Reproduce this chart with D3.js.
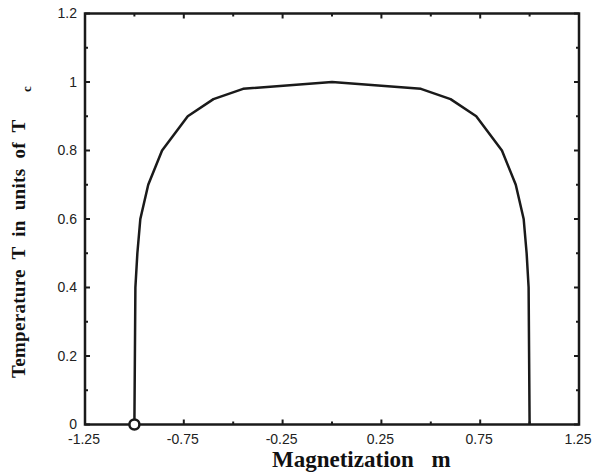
<!DOCTYPE html>
<html lang="en">
<head>
  <meta charset="UTF-8">
  <title>Magnetization vs Temperature</title>
  <script src="https://d3js.org/d3.v7.min.js"></script>
  <style>
    body { margin: 0; background: #fff; }
    .tick-label { font: 14px "Liberation Sans", Arial, sans-serif; fill: #222; }
    .axis-title { font-family: "Liberation Serif", "Times New Roman", serif; font-weight: bold; fill: #111; }
  </style>
</head>
<body>
  <svg></svg>
  <script>
    // curve
    const magnetization = [-1, -0.995, -0.985, -0.97, -0.93, -0.86, -0.73, -0.6, -0.45, 0, 0.45, 0.6, 0.73, 0.86, 0.93, 0.97, 0.985, 0.995, 1];
    const temperature   = [0, 0.4, 0.5, 0.6, 0.7, 0.8, 0.9, 0.95, 0.98, 1, 0.98, 0.95, 0.9, 0.8, 0.7, 0.6, 0.5, 0.4, 0];
    const marker = [{ m: -1, t: 0 }];

    const xMajor = [-1.25, -0.75, -0.25, 0.25, 0.75, 1.25];
    const xMinor = [-1, -0.5, 0, 0.5, 1];
    const yMajor = [0, 0.2, 0.4, 0.6, 0.8, 1, 1.2];
    const yMinor = [0.1, 0.3, 0.5, 0.7, 0.9, 1.1];

    const width = 596, height = 475;
    const plotLeft = 85, plotRight = 579, plotTop = 13.5, plotBottom = 424.5;

    const svg = d3.select("svg").attr("width", width).attr("height", height);

    const x = d3.scaleLinear().domain([-1.25, 1.25]).range([plotLeft, plotRight]);
    const y = d3.scaleLinear().domain([0, 1.2]).range([plotBottom, plotTop]);

    // plain hyphen minus like the original, no unicode minus
    const fmt = d => String(d);

    // ticks, pointing inward on all four sides
    const ticks = svg.append("g").attr("stroke", "#1a1a1a").attr("stroke-width", 2);
    function xTick(v, len) {
      ticks.append("line").attr("x1", x(v)).attr("x2", x(v)).attr("y1", plotBottom).attr("y2", plotBottom - len);
      ticks.append("line").attr("x1", x(v)).attr("x2", x(v)).attr("y1", plotTop).attr("y2", plotTop + len);
    }
    function yTick(v, len) {
      ticks.append("line").attr("y1", y(v)).attr("y2", y(v)).attr("x1", plotLeft).attr("x2", plotLeft + len);
      ticks.append("line").attr("y1", y(v)).attr("y2", y(v)).attr("x1", plotRight).attr("x2", plotRight - len);
    }
    xMajor.forEach(v => xTick(v, 5));
    xMinor.forEach(v => xTick(v, 3));
    yMajor.forEach(v => yTick(v, 5));
    yMinor.forEach(v => yTick(v, 3));

    svg.append("rect")
      .attr("x", plotLeft).attr("y", plotTop)
      .attr("width", plotRight - plotLeft).attr("height", plotBottom - plotTop)
      .attr("fill", "none")
      .attr("stroke", "#1a1a1a")
      .attr("stroke-width", 2.5);

    svg.append("g").selectAll("text")
      .data(xMajor)
      .join("text")
      .attr("class", "tick-label")
      .attr("x", d => x(d) - 1)
      .attr("y", plotBottom + 19.5)
      .attr("text-anchor", "middle")
      .text(fmt);

    svg.append("g").selectAll("text")
      .data(yMajor)
      .join("text")
      .attr("class", "tick-label")
      .attr("x", plotLeft - 8)
      .attr("y", d => y(d) + 4.5)
      .attr("text-anchor", "end")
      .text(fmt);

    const points = magnetization.map((m, i) => ({ m: m, t: temperature[i] }));
    const line = d3.line().x(d => x(d.m)).y(d => y(d.t));

    svg.append("path")
      .datum(points)
      .attr("d", line)
      .attr("fill", "none")
      .attr("stroke", "#1a1a1a")
      .attr("stroke-width", 2.5)
      .attr("stroke-linejoin", "round");

    svg.selectAll("circle.marker")
      .data(marker)
      .join("circle")
      .attr("class", "marker")
      .attr("cx", d => x(d.m))
      .attr("cy", d => y(d.t))
      .attr("r", 5)
      .attr("fill", "#fff")
      .attr("stroke", "#1a1a1a")
      .attr("stroke-width", 2.5);

    // x title
    svg.append("text")
      .attr("class", "axis-title")
      .style("font-size", "23px")
      .style("word-spacing", "12px")
      .attr("x", 272)
      .attr("y", 467)
      .text("Magnetization m");

    // y title, with the c of T_c dropped a little
    const yTitle = svg.append("text")
      .attr("class", "axis-title")
      .style("font-size", "19px")
      .style("letter-spacing", "0.3px")
      .style("word-spacing", "5px")
      .attr("transform", "translate(25,378) rotate(-90)");
    yTitle.append("tspan").text("Temperature T in units of T");
    yTitle.append("tspan")
      .attr("x", 286)
      .attr("dy", 6)
      .style("font-size", "13px")
      .style("letter-spacing", "0px")
      .text("c");
  </script>
</body>
</html>
